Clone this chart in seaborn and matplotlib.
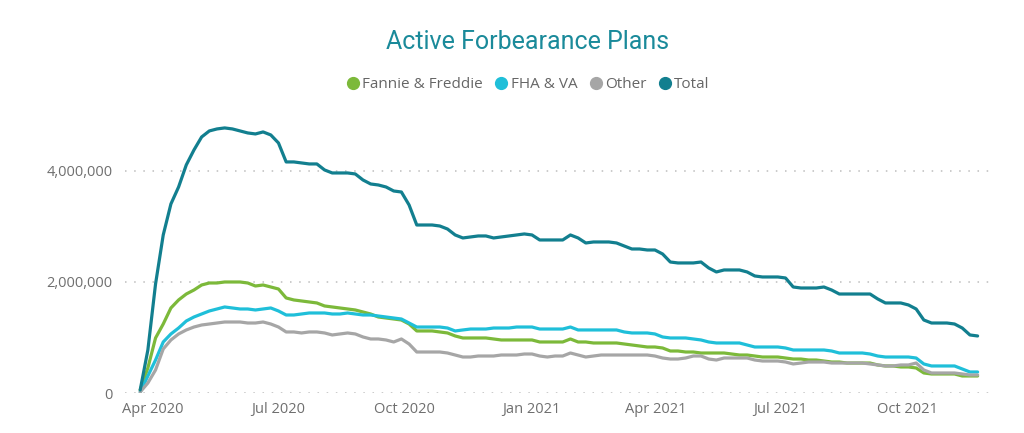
import pandas as pd
import matplotlib
matplotlib.use('Agg')
import matplotlib.pyplot as plt
import matplotlib.dates as mdates
from matplotlib.lines import Line2D
from matplotlib.ticker import FuncFormatter
import numpy as np
import seaborn as sns

# readings spaced evenly from late Mar 2020 to late Nov 2021 (values in thousands of plans)
start_date = '2020-03-23'
end_date = '2021-11-21'
total = [59, 778, 1964, 2845, 3402, 3707, 4103, 4372, 4606, 4714,
         4750, 4768, 4750, 4714, 4678, 4660, 4696, 4642, 4498, 4157,
         4157, 4139, 4121, 4121, 4013, 3959, 3959, 3959, 3941, 3833,
         3761, 3743, 3707, 3635, 3617, 3384, 3024, 3024, 3024, 3006,
         2952, 2845, 2791, 2809, 2827, 2827, 2791, 2809, 2827, 2845,
         2863, 2845, 2755, 2755, 2755, 2755, 2845, 2791, 2701, 2719,
         2719, 2719, 2701, 2647, 2593, 2593, 2575, 2575, 2503, 2359,
         2342, 2342, 2342, 2359, 2252, 2180, 2216, 2216, 2216, 2180,
         2108, 2090, 2090, 2090, 2072, 1910, 1892, 1892, 1892, 1910,
         1856, 1784, 1784, 1784, 1784, 1784, 1695, 1623, 1623, 1623,
         1587, 1515, 1317, 1263, 1263, 1263, 1245, 1173, 1048, 1030]
fannie_freddie = [59, 455, 994, 1245, 1533, 1677, 1784, 1856, 1946, 1982,
                  1982, 2000, 2000, 2000, 1982, 1928, 1946, 1910, 1874, 1713,
                  1677, 1659, 1641, 1623, 1569, 1551, 1533, 1515, 1497, 1461,
                  1425, 1371, 1353, 1335, 1317, 1245, 1120, 1120, 1120, 1102,
                  1084, 1030, 994, 994, 994, 994, 976, 958, 958, 958,
                  958, 958, 922, 922, 922, 922, 976, 922, 922, 904,
                  904, 904, 904, 886, 868, 850, 832, 832, 814, 760,
                  760, 742, 742, 724, 724, 724, 724, 706, 688, 688,
                  670, 652, 652, 652, 634, 616, 616, 598, 598, 580,
                  562, 562, 544, 544, 544, 544, 509, 491, 491, 473,
                  473, 455, 365, 347, 347, 347, 347, 311, 311, 311]
fha_va = [23, 311, 598, 922, 1066, 1173, 1299, 1371, 1425, 1479,
          1515, 1551, 1533, 1515, 1515, 1497, 1515, 1533, 1479, 1407,
          1407, 1425, 1443, 1443, 1443, 1425, 1425, 1443, 1425, 1407,
          1407, 1389, 1371, 1353, 1335, 1263, 1191, 1191, 1191, 1191,
          1173, 1120, 1138, 1155, 1155, 1155, 1173, 1173, 1173, 1191,
          1191, 1191, 1155, 1155, 1155, 1155, 1191, 1138, 1138, 1138,
          1138, 1138, 1138, 1102, 1084, 1084, 1084, 1066, 1012, 994,
          994, 994, 976, 958, 922, 904, 904, 904, 904, 868,
          832, 832, 832, 832, 814, 778, 778, 778, 778, 778,
          760, 724, 724, 724, 724, 706, 670, 652, 652, 652,
          652, 634, 527, 491, 491, 491, 491, 437, 383, 383]
other = [23, 185, 419, 796, 958, 1066, 1138, 1191, 1227, 1245,
         1263, 1281, 1281, 1281, 1263, 1263, 1281, 1245, 1191, 1102,
         1102, 1084, 1102, 1102, 1084, 1048, 1066, 1084, 1066, 1012,
         976, 976, 958, 922, 976, 886, 742, 742, 742, 742,
         724, 688, 652, 652, 670, 670, 670, 688, 688, 688,
         706, 706, 670, 652, 670, 670, 724, 688, 652, 670,
         688, 688, 688, 688, 688, 688, 688, 670, 634, 616,
         616, 634, 670, 670, 616, 598, 634, 634, 634, 634,
         598, 580, 580, 580, 562, 527, 544, 562, 562, 562,
         544, 544, 544, 544, 544, 527, 509, 491, 491, 509,
         509, 544, 419, 365, 365, 365, 365, 347, 329, 329]

series = {'Fannie & Freddie': fannie_freddie, 'FHA & VA': fha_va, 'Other': other, 'Total': total}
colors = {'Fannie & Freddie': '#7cb93a', 'FHA & VA': '#1fbfd9', 'Other': '#a6a6a6', 'Total': '#127f8f'}

dates = pd.date_range(start_date, end_date, periods=len(total))
frames = []
for name, vals in series.items():
    frames.append(pd.DataFrame({'date': dates, 'plans': np.array(vals) * 1000, 'type': name}))
df = pd.concat(frames, ignore_index=True)

sns.set_style('white')
plt.rcParams['font.family'] = ['Open Sans', 'DejaVu Sans']

fig = plt.figure(figsize=(10.24, 4.33), dpi=100)
ax = fig.add_axes([0.1221, 0.0917, 0.8447, 0.6298])

sns.lineplot(data=df, x='date', y='plans', hue='type', hue_order=list(series.keys()),
             palette=colors, linewidth=2.3, legend=False, ax=ax)

ax.set_xlim(pd.Timestamp('2020-03-12'), pd.Timestamp('2021-11-30'))
ax.set_ylim(0, 4.9e6)
ax.set_yticks([0, 2e6, 4e6])
ax.yaxis.set_major_formatter(FuncFormatter(lambda v, p: f'{int(v):,}'))
ax.xaxis.set_major_locator(mdates.MonthLocator(bymonth=[1, 4, 7, 10]))
ax.xaxis.set_major_formatter(mdates.DateFormatter('%b %Y'))
ax.grid(False)
ax.yaxis.grid(True, linestyle=(0, (1, 5)), color='#bdbdbd', linewidth=1.1)
ax.set_axisbelow(True)
for s in ax.spines.values():
    s.set_visible(False)
ax.tick_params(axis='both', length=0, labelsize=10.5, colors='#6f6f6f')
ax.tick_params(axis='y', pad=9)
ax.tick_params(axis='x', pad=6)
ax.set_xlabel('')
ax.set_ylabel('')

fig.text(0.515, 0.902, 'Active Forbearance Plans', ha='center', va='center',
         fontsize=18, color='#1a8a9a', family=['Roboto', 'DejaVu Sans'])

handles = [Line2D([], [], marker='o', linestyle='', markersize=8.5, color=colors[k]) for k in series]
fig.legend(handles, list(series.keys()), loc='center', bbox_to_anchor=(0.515, 0.804), ncol=4,
           frameon=False, handletextpad=0.1, columnspacing=0.7, fontsize=11,
           labelcolor='#666666', handlelength=1.0)

plt.savefig('out.png', dpi=100, facecolor='white')
